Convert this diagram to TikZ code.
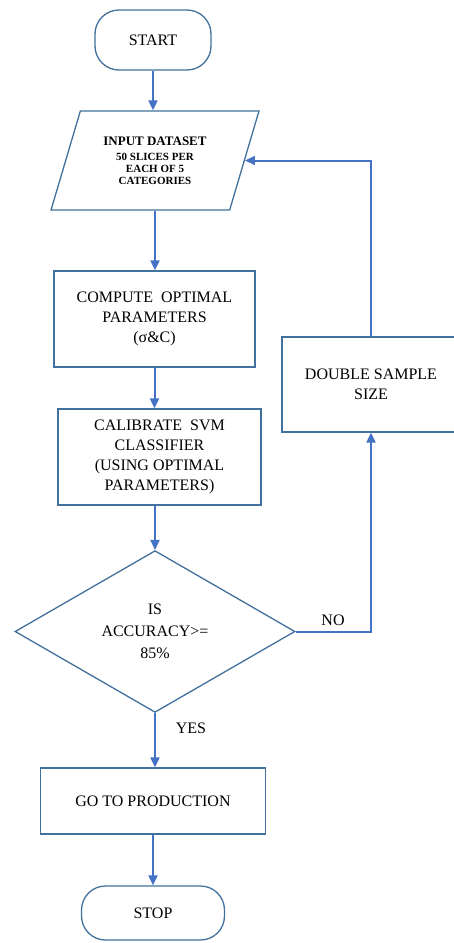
\documentclass[tikz,border=0pt]{standalone}
\usepackage{fontspec}
\setmainfont{Liberation Serif}
\usetikzlibrary{shapes.geometric,arrows.meta}
\definecolor{nodeline}{HTML}{41719C}
\definecolor{arrowc}{HTML}{4472C4}
\newcommand{\bigline}{\fontsize{13}{15}\selectfont\bfseries}
\begin{document}
\begin{tikzpicture}[x=1pt,y=-1pt,
  box/.style={draw=nodeline, line width=1.3pt, fill=white, text=black, align=center,
    font=\fontsize{16}{20}\selectfont, inner sep=2pt},
  term/.style={box, rounded corners=24pt},
  flow/.style={draw=arrowc, line width=2pt, -{Triangle[length=10pt,width=9pt]}},
  lbl/.style={text=black, font=\fontsize{16}{18}\selectfont, inner sep=0pt}]
\useasboundingbox (0,0) rectangle (454,943);

\node[term, minimum width=116pt, minimum height=60pt] (start) at (153,40) {START};
\node[box, trapezium, trapezium left angle=67, trapezium right angle=113,
      trapezium stretches=true, minimum width=208pt, minimum height=99pt,
      inner sep=0pt, font=\fontsize{11}{12}\selectfont\bfseries] (input) at (155,160.5)
  {{\bigline INPUT DATASET}\\[3pt]
   50 SLICES PER\\ EACH OF 5\\ CATEGORIES};
\node[box, minimum width=201pt, minimum height=96pt] (compute) at (154.5,319)
  {COMPUTE\ \ OPTIMAL\\PARAMETERS\\(σ\&C)};
\node[box, minimum width=203pt, minimum height=96pt] (calib) at (159.5,457)
  {CALIBRATE\ \ SVM\\CLASSIFIER\\(USING OPTIMAL\\PARAMETERS)};
\node[box, diamond, minimum width=280pt, minimum height=160pt, inner sep=0pt,
      font=\fontsize{16}{22}\selectfont] (dec) at (155,631.5)
  {IS\\ACCURACY>=\\85\%};
\node[box, minimum width=225pt, minimum height=66pt] (prod) at (153,801) {GO TO PRODUCTION};
\node[term, minimum width=143pt, minimum height=54pt] (stop) at (153,913) {STOP};
\node[box, minimum width=178pt, minimum height=95pt] (dbl) at (371,384.5) {DOUBLE SAMPLE\\SIZE};

\node[lbl] (yes) at (191,728) {YES};
\node[lbl] (no) at (333,620) {NO};

\draw[flow] (start.south) -- (start.south |- input.north);
\draw[flow] (input.south) -- (input.south |- compute.north);
\draw[flow] (compute.south) -- (compute.south |- calib.north);
\draw[flow] (dec.north |- calib.south) -- (dec.north);
\draw[flow] (dec.south) -- (dec.south |- prod.north);
\draw[flow] (prod.south) -- (stop.north);
\draw[flow] (dec.east) -| (dbl.south);
\draw[flow] (dbl.north) |- (input.east);
\end{tikzpicture}
\end{document}
